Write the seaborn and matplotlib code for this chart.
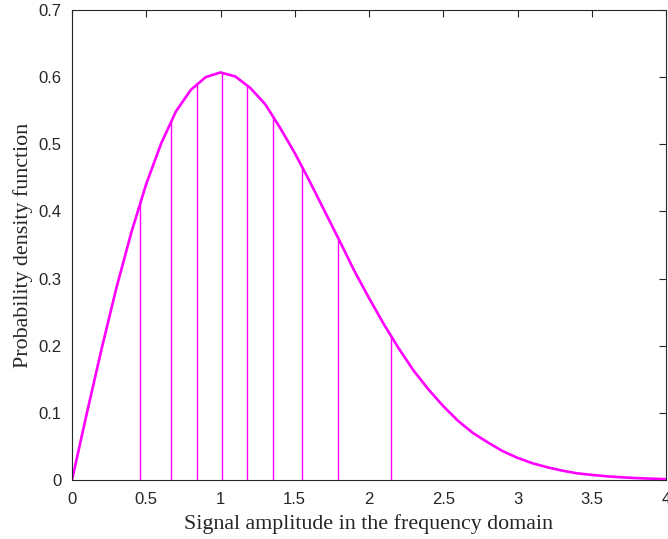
import numpy as np
import pandas as pd
import seaborn as sns
import matplotlib
matplotlib.use("Agg")
import matplotlib.pyplot as plt

# Curve samples
amp = [0.0, 0.1, 0.2, 0.3, 0.4, 0.5, 0.6, 0.7, 0.8, 0.9, 1.0,
       1.1, 1.2, 1.3, 1.4, 1.5, 1.6, 1.7, 1.8, 1.9, 2.0,
       2.1, 2.2, 2.3, 2.4, 2.5, 2.6, 2.7, 2.8, 2.9, 3.0,
       3.1, 3.2, 3.3, 3.4, 3.5, 3.6, 3.7, 3.8, 3.9, 4.0]
pdf = [0.0, 0.0995, 0.196, 0.287, 0.369, 0.441, 0.501, 0.549, 0.581, 0.600, 0.607,
       0.601, 0.584, 0.560, 0.525, 0.487, 0.445, 0.401, 0.357, 0.312, 0.271,
       0.232, 0.196, 0.163, 0.135, 0.110, 0.088, 0.070, 0.056, 0.043, 0.033,
       0.025, 0.019, 0.014, 0.010, 0.0076, 0.0055, 0.0040, 0.0028, 0.0020, 0.0013]

# Vertical marker lines (positions and heights)
line_x = [0.459, 0.668, 0.845, 1.011, 1.177, 1.354, 1.552, 1.794, 2.146]
line_h = [0.413, 0.534, 0.591, 0.607, 0.589, 0.541, 0.465, 0.359, 0.215]

xticks = [0, 0.5, 1, 1.5, 2, 2.5, 3, 3.5, 4]
xticklabels = ["0", "0.5", "1", "1.5", "2", "2.5", "3", "3.5", "4"]
yticks = [0, 0.1, 0.2, 0.3, 0.4, 0.5, 0.6, 0.7]
yticklabels = ["0", "0.1", "0.2", "0.3", "0.4", "0.5", "0.6", "0.7"]

sns.set_style("white")
plt.rcParams['font.family'] = ['Liberation Sans', 'DejaVu Sans']

fig = plt.figure(figsize=(6.68, 5.39), dpi=100)
ax = fig.add_axes([72/668, 1 - 480/539, 594/668, 470/539])

color = "#FF00FF"
df = pd.DataFrame({"amp": amp, "pdf": pdf})
sns.lineplot(data=df, x="amp", y="pdf", ax=ax, color=color, linewidth=1.9)
ax.vlines(line_x, 0, line_h, colors=color, linewidth=1.0)

ax.set_xlim(0, 4)
ax.set_ylim(0, 0.7)
ax.set_xticks(xticks)
ax.set_xticklabels(xticklabels)
ax.set_yticks(yticks)
ax.set_yticklabels(yticklabels)
ax.tick_params(direction="in", length=5, width=0.8, colors="#262626",
               labelsize=12, top=True, right=True, labelcolor="#262626")
ax.tick_params(axis="x", pad=9)
ax.tick_params(axis="y", pad=7.5)
for s in ax.spines.values():
    s.set_visible(True)
    s.set_color("#262626")
    s.set_linewidth(0.8)

ax.set_xlabel("Signal amplitude in the frequency domain", family=["Liberation Serif"],
              fontsize=15.8, color="#262626", labelpad=5)
ax.set_ylabel("Probability density function", family=["Liberation Serif"],
              fontsize=15.8, color="#262626", labelpad=4)

fig.savefig("out.png", dpi=100)
